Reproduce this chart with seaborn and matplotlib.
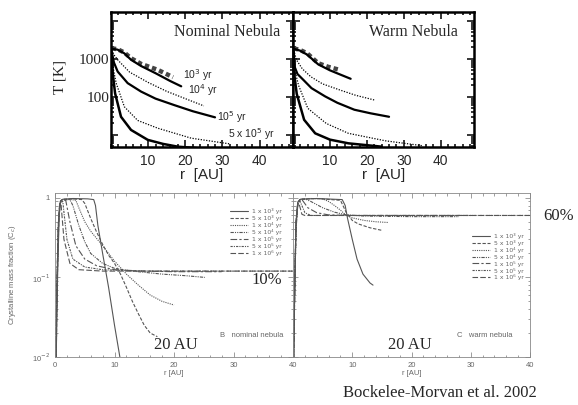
import numpy as np
import pandas as pd
import seaborn as sns
import matplotlib
matplotlib.use('Agg')
import matplotlib.pyplot as plt
from matplotlib.ticker import MultipleLocator, LogLocator, NullFormatter, FixedLocator, FixedFormatter

# ---- top: temperature profiles T(r) ----
nom_r_1e3 = [0.2, 1.8, 3.6, 5.4, 8.1, 12.6, 16.7]
nom_T_1e3 = [1900, 1800, 1470, 1040, 740, 515, 330]
nom_r_1e4 = [0.2, 1.8, 3.6, 5.4, 8.1, 12.0, 16.0, 18.9]
nom_T_1e4 = [1850, 1750, 1400, 950, 650, 420, 260, 190]
nom_r_dot1 = [0.2, 1.0, 2.0, 5.0, 10.0, 15.0, 20.0, 25.0]
nom_T_dot1 = [1700, 1200, 900, 450, 240, 140, 90, 58]
nom_r_1e5 = [0.2, 0.8, 1.8, 4.5, 8.1, 12.0, 17.0, 22.0, 28.0]
nom_T_1e5 = [1550, 800, 465, 230, 138, 90, 61, 42, 29]
nom_r_dot2 = [0.2, 0.7, 1.4, 3.6, 7.2, 12.6, 21.6, 32.0]
nom_T_dot2 = [1400, 500, 230, 55, 24, 15, 8.2, 5.8]
nom_r_5e5 = [0.2, 0.5, 1.1, 2.7, 5.4, 9.9, 14.0, 18.0, 23.0]
nom_T_5e5 = [1150, 400, 125, 30, 13.5, 7.4, 5.8, 4.9, 4.5]

warm_r_1e3 = [0.2, 1.9, 3.8, 6.8, 9.5, 12.6]
warm_T_1e3 = [1900, 1720, 1410, 770, 620, 515]
warm_r_1e4 = [0.2, 1.9, 3.8, 6.8, 10.0, 13.0, 15.6]
warm_T_1e4 = [1850, 1650, 1300, 720, 500, 380, 300]
warm_r_dot1 = [0.2, 0.9, 2.5, 4.8, 8.0, 12.6, 17.0, 22.0]
warm_T_dot1 = [1700, 950, 550, 340, 220, 153, 110, 83]
warm_r_1e5 = [0.2, 0.4, 1.2, 2.8, 5.0, 8.7, 12.0, 16.6, 21.0, 26.0]
warm_T_1e5 = [1550, 630, 400, 280, 170, 103, 70, 46, 37, 30]
warm_r_dot2 = [0.2, 0.6, 1.5, 4.0, 9.0, 15.0, 25.0, 35.0]
warm_T_dot2 = [1200, 450, 200, 50, 20, 11, 7, 5.2]
warm_r_5e5 = [0.2, 0.4, 1.0, 3.0, 6.0, 10.0, 15.0, 24.0]
warm_T_5e5 = [900, 350, 120, 25, 11, 7.5, 6, 4.9]

age_labels = ['10$^3$ yr', '10$^4$ yr', '10$^5$ yr', '5 x 10$^5$ yr']

# ---- bottom: crystalline mass fraction C_c(r) ----
legend_labels = ['1 x 10³ yr', '5 x 10³ yr', '1 x 10⁴ yr', '5 x 10⁴ yr',
                 '1 x 10⁵ yr', '5 x 10⁵ yr', '1 x 10⁶ yr']

nb_r = [
    [0.2, 0.45, 0.7, 0.95, 1.3, 3.0, 5.5, 6.5, 6.8, 7.2, 8.0, 9.0, 10.0, 11.0],
    [0.2, 0.4, 0.65, 0.9, 1.3, 3.0, 4.5, 5.0, 6.0, 7.0, 8.0, 9.0, 10.0, 11.0, 12.0, 13.0, 14.0, 15.0, 16.0, 17.2],
    [0.15, 0.4, 0.6, 0.85, 1.2, 2.5, 3.5, 4.0, 5.0, 6.0, 8.0, 10.0, 12.0, 14.0, 16.0, 18.0, 20.0],
    [0.15, 0.35, 0.6, 0.85, 1.2, 2.5, 3.0, 4.0, 5.0, 6.0, 8.0, 10.0, 13.0, 18.0, 22.0, 25.2],
    [0.1, 0.35, 0.55, 0.8, 1.1, 1.8, 2.5, 3.5, 5.0, 7.0, 10.0, 15.0, 20.0, 28.0],
    [0.1, 0.3, 0.55, 0.8, 1.3, 2.0, 3.0, 5.0, 8.0, 15.0, 40.0],
    [0.1, 0.3, 0.5, 0.75, 1.0, 1.5, 2.5, 4.0, 8.0, 40.0],
]
nb_c = [
    [0.01, 0.12, 0.6, 0.92, 0.96, 0.98, 0.97, 0.95, 0.8, 0.45, 0.2, 0.075, 0.025, 0.009],
    [0.01, 0.1, 0.55, 0.9, 0.96, 0.97, 0.95, 0.85, 0.55, 0.37, 0.26, 0.19, 0.15, 0.11, 0.075, 0.05, 0.035, 0.025, 0.02, 0.018],
    [0.01, 0.12, 0.5, 0.9, 0.95, 0.96, 0.93, 0.75, 0.5, 0.38, 0.25, 0.16, 0.11, 0.08, 0.06, 0.05, 0.045],
    [0.01, 0.09, 0.5, 0.88, 0.94, 0.95, 0.8, 0.45, 0.28, 0.2, 0.15, 0.13, 0.12, 0.11, 0.105, 0.1],
    [0.01, 0.1, 0.45, 0.85, 0.93, 0.93, 0.5, 0.25, 0.17, 0.14, 0.125, 0.12, 0.118, 0.118],
    [0.01, 0.08, 0.45, 0.85, 0.9, 0.3, 0.17, 0.135, 0.125, 0.12, 0.12],
    [0.01, 0.07, 0.4, 0.8, 0.85, 0.3, 0.15, 0.125, 0.12, 0.12],
]

wb_r = [
    [0.1, 0.3, 0.5, 0.8, 1.2, 4.0, 8.3, 8.8, 9.2, 10.0, 10.8, 11.8, 13.0, 13.5],
    [0.1, 0.3, 0.5, 0.8, 1.2, 4.0, 8.0, 9.0, 10.0, 11.0, 13.0, 15.0],
    [0.1, 0.3, 0.5, 0.8, 1.2, 3.0, 5.0, 6.0, 7.0, 8.0, 9.0, 10.0, 12.0, 14.0, 16.0],
    [0.1, 0.3, 0.5, 0.8, 1.2, 2.0, 3.0, 5.0, 7.0, 9.0, 12.0, 20.0, 28.0],
    [0.1, 0.3, 0.5, 0.8, 1.2, 1.5, 2.5, 4.0, 6.0, 10.0, 30.0],
    [0.1, 0.3, 0.5, 0.8, 1.2, 2.0, 3.0, 40.0],
    [0.1, 0.3, 0.5, 0.8, 1.0, 1.5, 2.0, 40.0],
]
wb_c = [
    [0.01, 0.1, 0.5, 0.88, 0.96, 0.98, 0.95, 0.8, 0.55, 0.3, 0.17, 0.11, 0.085, 0.08],
    [0.01, 0.1, 0.5, 0.88, 0.96, 0.98, 0.93, 0.65, 0.52, 0.47, 0.42, 0.39],
    [0.01, 0.09, 0.5, 0.87, 0.95, 0.98, 0.97, 0.9, 0.8, 0.7, 0.6, 0.56, 0.52, 0.5, 0.49],
    [0.01, 0.09, 0.45, 0.86, 0.95, 0.97, 0.9, 0.75, 0.66, 0.61, 0.59, 0.58, 0.58],
    [0.01, 0.08, 0.45, 0.85, 0.93, 0.95, 0.75, 0.65, 0.61, 0.6, 0.6],
    [0.01, 0.08, 0.4, 0.84, 0.9, 0.65, 0.6, 0.6],
    [0.01, 0.07, 0.4, 0.82, 0.85, 0.62, 0.6, 0.6],
]

styles = ['-', (0, (3, 1.5)), (0, (1, 1)), (0, (3, 1, 1, 1, 1, 1)),
          (0, (6, 2, 2, 2)), (0, (2, 1, 1, 1)), (0, (5, 2))]

sns.set_style('ticks')
serif = ['Liberation Serif', 'DejaVu Serif']
sans = ['Liberation Sans', 'DejaVu Sans']
plt.rcParams['font.family'] = sans
plt.rcParams['mathtext.fontset'] = 'dejavusans'

fig = plt.figure(figsize=(5.78, 4.05), dpi=100)
ax_tl = fig.add_axes([0.192, 0.637, 0.315, 0.333])
ax_tr = fig.add_axes([0.507, 0.637, 0.313, 0.333])
ax_bl = fig.add_axes([0.0952, 0.1185, 0.4118, 0.405])
ax_br = fig.add_axes([0.507, 0.1185, 0.410, 0.405])


def line(ax, x, y, **kw):
    sns.lineplot(x=x, y=y, ax=ax, estimator=None, sort=False, **kw)


# top panels
top_sets = [
    (ax_tl, [(nom_r_1e3, nom_T_1e3), (nom_r_1e4, nom_T_1e4), (nom_r_dot1, nom_T_dot1),
             (nom_r_1e5, nom_T_1e5), (nom_r_dot2, nom_T_dot2), (nom_r_5e5, nom_T_5e5)]),
    (ax_tr, [(warm_r_1e3, warm_T_1e3), (warm_r_1e4, warm_T_1e4), (warm_r_dot1, warm_T_dot1),
             (warm_r_1e5, warm_T_1e5), (warm_r_dot2, warm_T_dot2), (warm_r_5e5, warm_T_5e5)]),
]
top_styles = [dict(color='#444444', lw=3.2, linestyle=(0, (1, 0.7))),
              dict(color='black', lw=1.6),
              dict(color='black', lw=0.9, linestyle=(0, (1, 1.2))),
              dict(color='black', lw=1.6),
              dict(color='black', lw=0.9, linestyle=(0, (1, 1.2))),
              dict(color='black', lw=1.8)]
for ax, curves in top_sets:
    for (r, T), st in zip(curves, top_styles):
        line(ax, r, T, **st)
    ax.set_yscale('log')
    ax.set_xlim(0, 49)
    ax.set_ylim(4.8, 17000)
    ax.set_xticks([10, 20, 30, 40])
    ax.xaxis.set_minor_locator(MultipleLocator(2))
    ax.yaxis.set_major_locator(FixedLocator([10, 100, 1000, 10000]))
    ax.yaxis.set_minor_locator(LogLocator(subs=np.arange(2, 10)))
    ax.yaxis.set_minor_formatter(NullFormatter())
    ax.tick_params(which='both', direction='in', top=True, right=True, width=1.1, color='black')
    ax.tick_params(which='major', length=5)
    ax.tick_params(which='minor', length=2.5)
    ax.tick_params(axis='x', labelsize=10, pad=5)
    for s in ax.spines.values():
        s.set_linewidth(1.8)
        s.set_color('black')
    ax.set_xlabel('r  [AU]', fontsize=11, labelpad=0)
    ax.set_ylabel('')

ax_tl.yaxis.set_major_formatter(FixedFormatter(['', '100', '1000', '']))
for t in ax_tl.get_yticklabels():
    t.set_fontfamily(serif)
ax_tl.tick_params(axis='y', labelsize=11, pad=1)
ax_tr.tick_params(axis='y', labelleft=False)
ax_tl.set_ylabel('T [K]', fontsize=11, family=serif)
ax_tl.yaxis.set_label_coords(-0.245, 0.52)

ax_tl.text(0.93, 0.852, 'Nominal Nebula', transform=ax_tl.transAxes, ha='right', va='center',
           fontsize=11.5, family=serif)
ax_tr.text(0.91, 0.852, 'Warm Nebula', transform=ax_tr.transAxes, ha='right', va='center',
           fontsize=11.5, family=serif)
lab_pos = [(0.396, 0.535), (0.423, 0.425), (0.582, 0.222), (0.643, 0.096)]
for lab, (x, y) in zip(age_labels, lab_pos):
    ax_tl.text(x, y, lab, transform=ax_tl.transAxes, ha='left', va='center', fontsize=7.5)

# bottom panels
gray = '#555555'
for ax, rs, cs in [(ax_bl, nb_r, nb_c), (ax_br, wb_r, wb_c)]:
    for r, c, ls, lab in zip(rs, cs, styles, legend_labels):
        line(ax, r, c, color=gray, lw=0.8, linestyle=ls, label=lab)
    ax.set_yscale('log')
    ax.set_xlim(0, 40)
    ax.set_ylim(0.01, 1.15)
    ax.xaxis.set_minor_locator(MultipleLocator(2))
    ax.yaxis.set_major_locator(FixedLocator([0.01, 0.1, 1]))
    ax.yaxis.set_minor_locator(LogLocator(subs=np.arange(2, 10)))
    ax.yaxis.set_minor_formatter(NullFormatter())
    ax.tick_params(which='both', direction='in', top=True, right=True, width=0.5,
                   color='#777777', labelcolor='#666666', labelsize=5.5)
    ax.tick_params(which='major', length=3.5)
    ax.tick_params(which='minor', length=1.8)
    for s in ax.spines.values():
        s.set_linewidth(0.6)
        s.set_color('#888888')
    ax.set_xlabel('r [AU]', fontsize=5.5, color='#666666', labelpad=1)
    ax.set_ylabel('')

ax_bl.set_xticks([0, 10, 20, 30, 40])
ax_br.set_xticks([10, 20, 30, 40])
ax_bl.yaxis.set_major_formatter(FixedFormatter(['10$^{-2}$', '10$^{-1}$', '1']))
ax_br.tick_params(axis='y', labelleft=False)
ax_bl.set_ylabel('Crystalline mass fraction (C$_c$)', fontsize=5.5, color='#666666')
ax_bl.yaxis.set_label_coords(-0.155, 0.5)

leg_kw = dict(frameon=False, prop={'family': 'DejaVu Sans', 'size': 4.4}, handlelength=3.0,
              handletextpad=0.6, labelspacing=0.15, borderpad=0, labelcolor='#666666')
ax_bl.legend(loc='upper right', bbox_to_anchor=(0.965, 0.925), **leg_kw)
ax_br.legend(loc='upper right', bbox_to_anchor=(0.985, 0.775), **leg_kw)

ax_bl.text(0.89, 0.47, '10%', transform=ax_bl.transAxes, ha='center', va='center',
           fontsize=12, family=serif)
ax_bl.text(0.508, 0.073, '20 AU', transform=ax_bl.transAxes, ha='center', va='center',
           fontsize=12, family=serif)
ax_br.text(0.494, 0.073, '20 AU', transform=ax_br.transAxes, ha='center', va='center',
           fontsize=12, family=serif)
ax_bl.text(0.693, 0.134, 'B   nominal nebula', transform=ax_bl.transAxes, ha='left', va='center',
           fontsize=5.5, color='#666666')
ax_br.text(0.69, 0.134, 'C   warm nebula', transform=ax_br.transAxes, ha='left', va='center',
           fontsize=5.5, color='#666666')
fig.text(0.967, 0.467, '60%', ha='center', va='center', fontsize=12, family=serif)
fig.text(0.761, 0.030, 'Bockelee-Morvan et al. 2002', ha='center', va='center',
         fontsize=12, family=serif)

fig.savefig('out.png', dpi=100)
